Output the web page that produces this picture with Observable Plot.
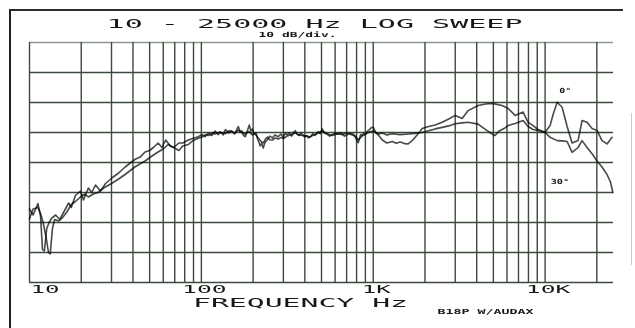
<!DOCTYPE html>
<html><head><meta charset="utf-8">
<script src="https://cdn.jsdelivr.net/npm/d3@7"></script>
<script src="https://cdn.jsdelivr.net/npm/@observablehq/plot@0.6"></script>
<style>
html,body{margin:0;padding:0;background:#fff;}
#wrap{position:relative;width:635px;height:328px;overflow:hidden;background:#fff;}
#wrap svg{position:absolute;left:0;top:0;}
#frame{position:absolute;left:9px;top:9px;width:612px;height:330px;border-left:2px solid #1e221e;border-top:2px solid #2a2f2a;pointer-events:none;}
#edge{position:absolute;left:631px;top:113px;width:1px;height:152px;background:#c8ccc8;}
</style></head><body><div id="wrap"></div>
<script>
// ---- data ----
const titleText = "10 - 25000 Hz LOG SWEEP";
const subtitleText = "10 dB/div.";
const xAxisTitle = "FREQUENCY Hz";
const noteText = "B18P W/AUDAX";
const gridFreqs = [10,20,30,40,50,60,70,80,90,100,200,300,400,500,600,700,800,900,1000,2000,3000,4000,5000,6000,7000,8000,9000,10000,20000];
const gridLevels = [0,10,20,30,40,50,60,70,80];
const tickFreqs = [10,100,1000,10000];
const tickLabels = ["10","100","1K","10K"];
// [frequency Hz, level dB]
const onAxis = [[10,24.5],[10.5,22.5],[11.2,26.3],[11.6,22],[11.9,11],[12.2,10.5],[12.6,18],[13,20],[13.5,21.5],[14.2,22.5],[15,21],[16,24],[16.9,26.5],[17.5,25],[18.5,29],[19.8,30.5],[20.6,27.5],[22,31.5],[23,30],[24.2,32.5],[25.9,30.5],[27.7,33],[30.4,35],[33,36.5],[36,38.5],[41,41],[44,41.8],[47,43.5],[50,44],[52.6,45],[56,46.5],[59,45],[62,47.5],[66,45.5],[69,45],[74,46.5],[78,46.5],[84,47.5],[89,48],[95,48.5],[101,49.3],[105,48.6],[110,49.8],[115,49],[120,50.5],[125,49.3],[130,50],[134,49.2],[138,51],[144,49.8],[150,50.5],[156,49.5],[160,50.8],[164,52],[168,50.2],[172,50.6],[176,49],[180,48.6],[185,50.5],[190,52.5],[194,50.5],[198,51.2],[203,49.5],[208,49.8],[212,48],[216,46.8],[220,45.5],[224,46.5],[229,44.8],[235,46.8],[242,47.5],[250,48.8],[259,48.2],[268,49.2],[280,48.6],[290,49.5],[300,48.3],[308,49.8],[316,49.2],[325,49.9],[335,48.8],[344,50],[352,50.6],[360,49.5],[370,49],[378,49.8],[387,49.4],[398,48.5],[410,49],[420,48.2],[430,48.6],[445,49.6],[458,49],[467,49.8],[480,50.3],[492,49.6],[505,51.2],[520,49.8],[540,49.4],[558,48.8],[578,49.3],[598,49.8],[620,49.4],[640,49.9],[661,49.5],[680,48.8],[700,49.2],[725,49.6],[755,49.2],[775,48.9],[790,48.2],[805,47.2],[818,46.6],[830,47.8],[845,49.3],[860,49],[880,49.8],[898,49.4],[920,50.3],[950,51],[975,51.6],[1000,51.8],[1030,50.2],[1060,49.5],[1128,47.5],[1200,46.5],[1290,47],[1360,46.4],[1435,46.8],[1520,46.3],[1597,46.2],[1700,47.5],[1850,50],[1927,51.3],[2100,52],[2292,52.5],[2518,53.4],[2750,54.5],[3000,55.7],[3290,54.7],[3566,57.3],[4077,59],[4500,59.5],[4920,59.7],[5623,59],[6095,58],[6695,55.7],[7447,56.8],[7962,53.4],[8511,52.3],[9103,51],[10000,50.1],[10690,52.3],[11130,56],[11750,60.1],[12560,58.4],[13430,52],[14360,46.5],[15560,47.3],[16410,54],[17540,53.4],[18760,51.3],[20050,50.7],[21440,47.3],[22920,46.2],[24530,48.4]];
const offAxis30 = [[10,21.3],[10.5,24.5],[11.2,25],[11.6,23],[12,20],[12.5,15],[12.9,10],[13.2,9.5],[13.6,18],[14,21],[14.8,20.5],[15.5,21.5],[16.5,23.5],[17.5,26],[18.5,27],[19.8,28.5],[21,29.5],[22,28.5],[23.5,29.5],[25,30],[27,31.5],[30,33],[33,34.5],[36,36],[41,38.5],[47,40.5],[52.6,42.5],[56,43.5],[60,44.5],[64,46],[69,45],[74,44],[78,45.5],[84,46],[89,47.2],[95,48],[101,48.5],[106,49.3],[110,49],[116,49.8],[120,49.5],[128,50.2],[138,49.6],[145,50.6],[150,50.4],[157,49.8],[164,50.8],[172,49.9],[180,49.5],[189,50.3],[198,49.2],[205,49.6],[212,48.5],[220,47.3],[229,46.5],[236,47.8],[242,48.5],[250,47.6],[259,47.5],[270,48.2],[280,47.8],[290,48.3],[300,48],[316,48.8],[335,49.3],[352,49.8],[370,49.2],[387,49],[410,48.8],[430,48.5],[450,49.2],[467,49.5],[485,49.9],[505,50.5],[540,49.6],[578,49],[620,49.6],[661,49.3],[700,49.8],[755,49.6],[790,48.8],[818,47.5],[860,48.8],[898,49.3],[950,50.2],[1000,50.5],[1060,49.5],[1128,49.8],[1200,49.2],[1290,49.6],[1435,49.3],[1597,49.5],[1754,49.7],[1927,50],[2100,50.6],[2292,51.2],[2518,51.7],[2750,52.2],[3000,52.9],[3290,53.2],[3566,53.4],[4077,52.8],[4303,51.8],[4600,50.6],[4920,49.5],[5120,49],[5400,50.5],[5800,51.4],[6095,52.3],[6695,53],[7447,54],[7962,52],[8511,51],[9103,50.7],[10000,50],[10690,48.4],[11750,47.3],[12600,47.2],[13430,47],[14360,43.4],[15560,45],[16410,47.3],[17540,45],[18760,42.9],[20050,40.5],[21440,38.5],[22920,36],[24000,33.5],[24800,30]];
const seriesLabels = ["0°","30°"];
const seriesLabelFreqs = [13100,12200];
const seriesLabelLevels = [64,33.5];

// ---- chart ----
const gridColor = "#3c4a3c";
const ink = "#151815";
const svg = Plot.plot({
  width: 635, height: 328,
  marginLeft: 29, marginRight: 22, marginTop: 42, marginBottom: 46,
  x: {type: "log", domain: [10, 25000], axis: null},
  y: {domain: [0, 80], axis: null},
  style: {background: "transparent", fontFamily: "'DejaVu Sans Mono', monospace", fontSize: "11px", color: ink},
  marks: [
    Plot.ruleY(gridLevels, {y: d => d, stroke: d => d === 80 ? "#8f998f" : gridColor, strokeWidth: 1.3}),
    Plot.ruleX(gridFreqs, {x: d => d, stroke: gridColor, strokeWidth: 1.4}),
    Plot.line(onAxis, {x: d => d[0], y: d => d[1], stroke: "#262c26", strokeWidth: 1.6, strokeOpacity: 0.85, mixBlendMode: "multiply"}),
    Plot.line(offAxis30, {x: d => d[0], y: d => d[1], stroke: "#262c26", strokeWidth: 1.6, strokeOpacity: 0.85, mixBlendMode: "multiply"}),
    Plot.text(seriesLabels, {x: (d, i) => seriesLabelFreqs[i], y: (d, i) => seriesLabelLevels[i], text: d => d, lineAnchor: "middle", fontSize: 7, fontWeight: "bold", fill: ink, className: "lab-series"}),
    Plot.text([titleText], {frameAnchor: "top", lineAnchor: "middle", text: d => d, dx: -7, dy: -18.8, fontSize: 13, fill: ink, className: "lab-title"}),
    Plot.text([subtitleText], {frameAnchor: "top", lineAnchor: "middle", text: d => d, dx: -24, dy: -7.8, fontSize: 7, fontWeight: "bold", fill: ink, className: "lab-sub"}),
    Plot.text(tickFreqs.slice(0, 1), {x: d => d, text: (d, i) => tickLabels[i], frameAnchor: "bottom", lineAnchor: "middle", textAnchor: "start", dx: 1, dy: 7, fontSize: 10.5, fill: ink, className: "lab-tick"}),
    Plot.text(tickFreqs.slice(1), {x: d => d, text: (d, i) => tickLabels[i + 1], frameAnchor: "bottom", lineAnchor: "middle", textAnchor: "middle", dx: 3, dy: 7, fontSize: 10.5, fill: ink, className: "lab-tick"}),
    Plot.text([xAxisTitle], {frameAnchor: "bottom", lineAnchor: "middle", text: d => d, dx: -21, dy: 20.8, fontSize: 13, fill: ink, className: "lab-xtitle"}),
    Plot.text([noteText], {frameAnchor: "bottom", lineAnchor: "middle", text: d => d, dx: 164, dy: 29.5, fontSize: 7, fontWeight: "bold", fill: ink, className: "lab-note"})
  ]
});

function stretch(cls, pitch, gap) {
  d3.select(svg).selectAll(`.${cls} text, text.${cls}`).each(function () {
    const n = this.textContent.length;
    this.setAttribute("textLength", n * pitch - gap);
    this.setAttribute("lengthAdjust", "spacingAndGlyphs");
  });
}
stretch("lab-title", 18.3, 5);
stretch("lab-sub", 8, 2);
stretch("lab-tick", 15.5, 2);
stretch("lab-xtitle", 18.2, 3.4);
stretch("lab-note", 8.2, 2.4);
stretch("lab-series", 6.5, 1);

const wrap = document.getElementById("wrap");
wrap.appendChild(svg);
const frame = document.createElement("div"); frame.id = "frame"; wrap.appendChild(frame);
const edge = document.createElement("div"); edge.id = "edge"; wrap.appendChild(edge);
</script>
</body></html>
